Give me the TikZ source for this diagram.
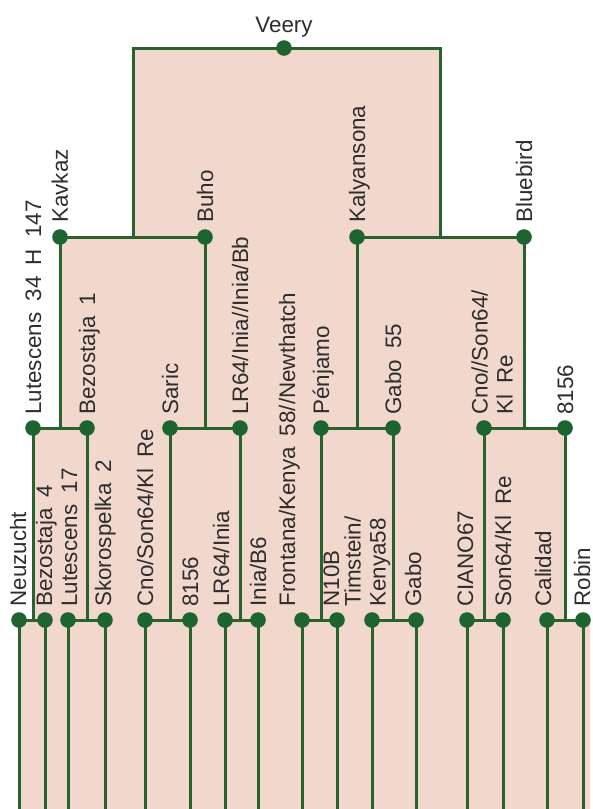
\documentclass[tikz,border=0pt]{standalone}
\usepackage{fontspec}
\setmainfont{Liberation Sans}[WordSpace=1.8]
\definecolor{treegreen}{RGB}{40,98,45}
\definecolor{dotgreen}{RGB}{30,100,48}
\definecolor{pinkfill}{RGB}{242,216,204}
\definecolor{labelgray}{RGB}{45,45,45}
\pgfdeclarelayer{fillbg}
\pgfdeclarelayer{linebg}
\pgfsetlayers{fillbg,linebg,main}
\begin{document}
\begin{tikzpicture}[x=0.5pt,y=-0.5pt,
  tree/.style={draw=treegreen, line width=1.5pt},
  dot/.style={circle, fill=dotgreen, inner sep=0pt, minimum size=7.8pt},
  lab/.style={rotate=90, anchor=base west, inner sep=0pt, text=labelgray, font=\fontsize{11.2}{12.5}\selectfont},
  mlab/.style={rotate=90, anchor=north west, inner sep=0pt, align=left, text=labelgray, font=\fontsize{11.2}{12.5}\selectfont}]
\useasboundingbox (0,0) rectangle (593,809);
% level 1
\node[dot] (veery) at (284,48) {};
% level 2
\node[dot] (kavkaz) at (60,237) {};
\node[dot] (buho) at (205,237) {};
\node[dot] (kalyansona) at (357,237) {};
\node[dot] (bluebird) at (524,237) {};
% level 3
\node[dot] (lut34) at (33,428) {};
\node[dot] (bez1) at (87,428) {};
\node[dot] (saric) at (170,428) {};
\node[dot] (lr64b) at (240,428) {};
\node[dot] (penjamo) at (321,428) {};
\node[dot] (gabo55) at (393,428) {};
\node[dot] (cno2) at (484,428) {};
\node[dot] (ea) at (565,428) {};
% level 4
\node[dot] (neuzucht) at (19,620) {};
\node[dot] (bez4) at (45,620) {};
\node[dot] (lut17) at (68,620) {};
\node[dot] (skoro) at (105,620) {};
\node[dot] (cno1) at (145,620) {};
\node[dot] (eb) at (190,620) {};
\node[dot] (lr64) at (225,620) {};
\node[dot] (iniab6) at (258,620) {};
\node[dot] (frontana) at (302,620) {};
\node[dot] (n10b) at (337,620) {};
\node[dot] (timstein) at (372,620) {};
\node[dot] (gabo) at (416,620) {};
\node[dot] (ciano) at (467,620) {};
\node[dot] (son64) at (503,620) {};
\node[dot] (calidad) at (547,620) {};
\node[dot] (robin) at (583,620) {};
\coordinate (jA) at (133,237);
\coordinate (jB) at (440,237);
\coordinate (bottom) at (0,809);

\begin{pgfonlayer}{fillbg}
\fill[pinkfill] (133,48) -- (440,48) -- (440,237) -- (524,237) -- (524,428) -- (565,428) -- (565,620) -- (590,620) -- (590,809) -- (19,809) -- (19,620) -- (33,620) -- (33,428) -- (60,428) -- (60,237) -- (133,237) -- cycle;
\end{pgfonlayer}

\begin{pgfonlayer}{linebg}
\draw[tree] (jA) |- (veery.center) -| (jB);
\draw[tree] (kavkaz.center) -- (buho.center);
\draw[tree] (kalyansona.center) -- (bluebird.center);
\foreach \p/\a/\b in {kavkaz/lut34/bez1, buho/saric/lr64b, kalyansona/penjamo/gabo55, bluebird/cno2/ea,
  lut34/neuzucht/bez4, bez1/lut17/skoro, saric/cno1/eb, lr64b/lr64/iniab6,
  penjamo/frontana/n10b, gabo55/timstein/gabo, cno2/ciano/son64, ea/calidad/robin}{
  \draw[tree] (\a.center) -- (\b.center);
  \draw[tree] (\p.center) -- (\p.center |- \a.center);
}
\foreach \n in {neuzucht,bez4,lut17,skoro,cno1,eb,lr64,iniab6,frontana,n10b,timstein,gabo,ciano,son64,calidad,robin}{
  \draw[tree] (\n.center) -- (\n.center |- bottom);
}
\end{pgfonlayer}

% labels
\node[anchor=base, inner sep=0pt, text=labelgray, font=\fontsize{11.2}{12.5}\selectfont] (l-veery) at (284,32) {Veery};
\node[lab] (l-kavkaz) at (68,223) {Kavkaz};
\node[lab] (l-buho) at (213,223) {Buho};
\node[lab] (l-kalyansona) at (365,223) {Kalyansona};
\node[lab] (l-bluebird) at (532,223) {Bluebird};

\node[lab] (l-lut34) at (41,415) {Lutescens 34 H 147};
\node[lab] (l-bez1) at (95,415) {Bezostaja 1};
\node[lab] (l-saric) at (178,415) {Saric};
\node[lab] (l-lr64b) at (248,415) {LR64/Inia//Inia/Bb};
\node[lab] (l-penjamo) at (329,415) {Pénjamo};
\node[lab] (l-gabo55) at (401,415) {Gabo 55};
\node[mlab] (l-cno2) at (471,415) {Cno//Son64/\\Kl Re};
\node[lab] (l-ea) at (573,415) {8156};

\node[lab] (l-neuzucht) at (26,607) {Neuzucht};
\node[lab] (l-bez4) at (52,607) {Bezostaja 4};
\node[lab] (l-lut17) at (77,607) {Lutescens 17};
\node[lab] (l-skoro) at (111,607) {Skorospelka 2};
\node[lab] (l-cno1) at (153,607) {Cno/Son64/Kl Re};
\node[lab] (l-eb) at (198,607) {8156};
\node[lab] (l-lr64) at (229,607) {LR64/Inia};
\node[lab] (l-iniab6) at (266,607) {Inia/B6};
\node[lab] (l-frontana) at (295,607) {Frontana/Kenya 58//Newthatch};
\node[lab] (l-n10b) at (339,607) {N10B};
\node[mlab] (l-timstein) at (344,607) {Timstein/\\Kenya58};
\node[lab] (l-gabo) at (421,607) {Gabo};
\node[lab] (l-ciano) at (473,607) {CIANO67};
\node[lab] (l-son64) at (511,607) {Son64/Kl Re};
\node[lab] (l-calidad) at (551,607) {Calidad};
\node[lab] (l-robin) at (590,607) {Robin};
\end{tikzpicture}
\end{document}
